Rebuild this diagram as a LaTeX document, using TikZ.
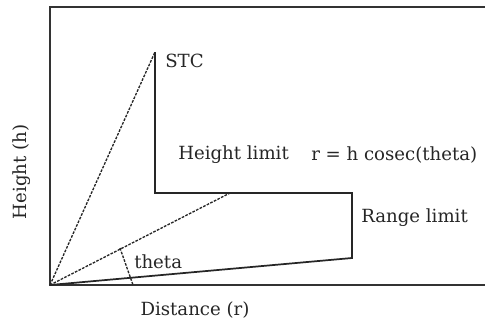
\documentclass[tikz,border=0pt]{standalone}
\usepackage{fontspec}
\setmainfont{DejaVu Serif}
\usetikzlibrary{calc}

\begin{document}
\begin{tikzpicture}[
  x=0.75pt, y=-0.75pt,
  every node/.style={font=\fontsize{13.6}{16}\selectfont, inner sep=0pt, text=black!85},
  frame/.style={line width=1.6pt, draw=black!80},
  limit/.style={line width=1.3pt, draw=black!85},
  ray/.style={line width=1pt, draw=black!85, dash pattern=on 2pt off 1pt}
]
\useasboundingbox (0,0) rectangle (485,325);
% axes
\coordinate (O) at (50,285);
\coordinate (top) at (50,7);
\draw[frame] (485,7) -- (top) -- (O) -- (485,285);
% coverage outline
\coordinate (stc) at (155,52);
\coordinate (knee) at (155,193);
\coordinate (corner) at (352,193);
\coordinate (low) at (352,258);
\draw[limit] (stc) -- (knee) -- (corner) -- (low) -- (O);
% rays from the radar
\coordinate (mid) at (230,193);
\draw[ray] (O) -- (stc);
\draw[ray] (O) -- (mid);
\coordinate (a1) at (120,248);
\coordinate (a2) at (133,285);
\draw[ray] (a1) -- (a2);
% labels
\node[anchor=west] (lstc) at (165,61) {STC};
\node[anchor=west] (lheight) at (178,155) {Height limit};
\node[anchor=west] (lformula) at (311,155) {r = h cosec(theta)};
\node[anchor=west] (lrange) at (361,218) {Range limit};
\node[anchor=west] (ltheta) at (134,262) {theta};
\node (ldist) at (195,310) {Distance (r)};
\node[rotate=90] (lh) at (22,172) {Height (h)};
\end{tikzpicture}
\end{document}
